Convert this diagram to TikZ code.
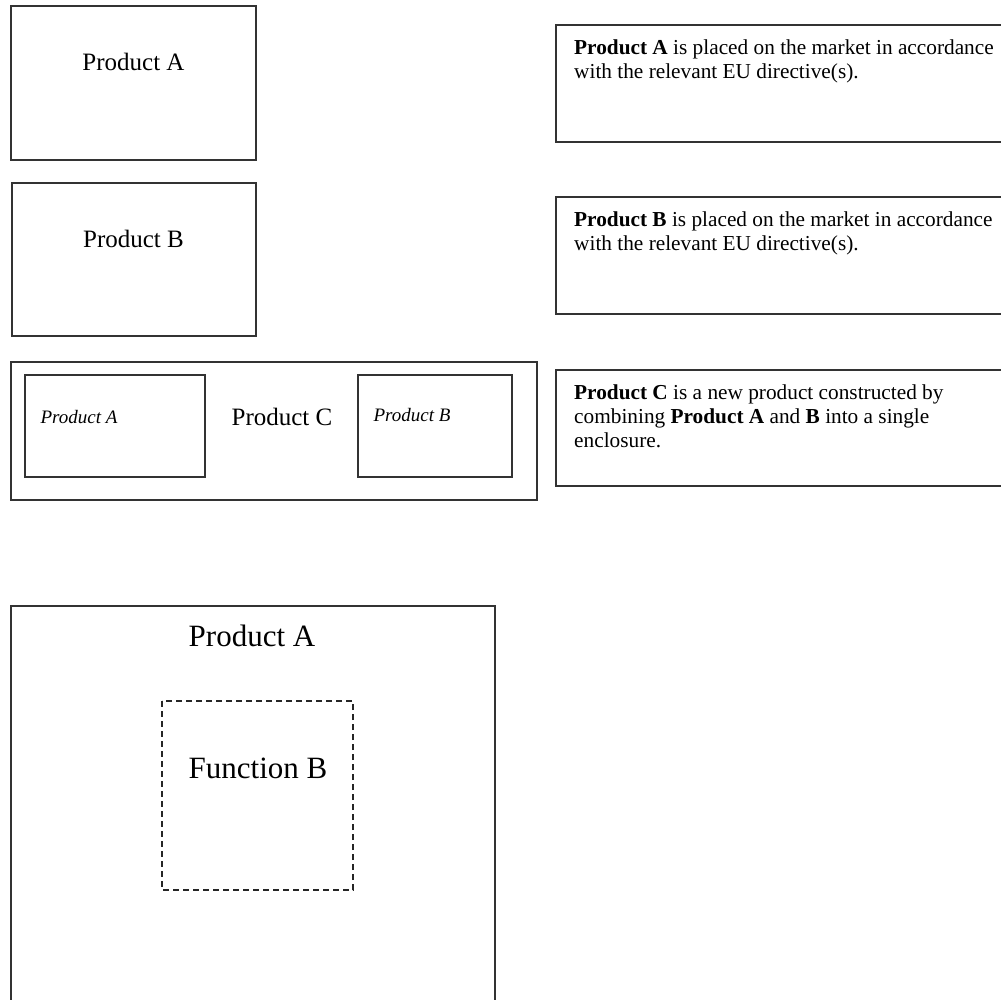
\documentclass[tikz,border=0pt]{standalone}
\usepackage{fontspec}
\setmainfont{Liberation Serif}
\begin{document}
\begin{tikzpicture}[x=1pt,y=-1pt,
  box/.style={draw=black!80,line width=1.3pt,inner sep=0pt,rectangle},
  dbox/.style={draw=black!85,line width=1.3pt,dashed,dash pattern=on 6pt off 4pt,inner sep=0pt,rectangle},
  big/.style={font=\fontsize{25}{30}\selectfont,inner sep=0pt},
  huge/.style={font=\fontsize{31}{36}\selectfont,inner sep=0pt},
  ital/.style={font=\fontsize{19}{22}\selectfont\itshape,inner sep=0pt},
  desc/.style={font=\fontsize{21.3}{24}\selectfont,inner sep=0pt,anchor=north west,align=left}]
\clip (0,0) rectangle (1001,999);
\fill[white] (0,0) rectangle (1001,999);
% left boxes
\draw[box] (11,6) rectangle (256,160);
\node[big] (labA) at (133.5,62) {Product A};
\draw[box] (12,183) rectangle (256,336);
\node[big] (labB) at (133.5,239) {Product B};
% product C
\draw[box] (11,362) rectangle (537,500);
\draw[box] (25,375) rectangle (205,477);
\draw[box] (358,375) rectangle (512,477);
\node[ital] (labCA) at (79,417) {Product A};
\node[big] (labC) at (282,417) {Product C};
\node[ital] (labCB) at (412,415) {Product B};
% right description boxes
\draw[box] (556,25) rectangle (1020,142);
\node[desc] (descA) at (574,40) {\textbf{Product A} is placed on the market in accordance\\with the relevant EU directive(s).};
\draw[box] (556,197) rectangle (1020,314);
\node[desc] (descB) at (574,212) {\textbf{Product B} is placed on the market in accordance\\with the relevant EU directive(s).};
\draw[box] (556,370) rectangle (1020,486);
\node[desc] (descC) at (574,385) {\textbf{Product C} is a new product constructed by\\combining \textbf{Product A} and \textbf{B} into a single\\enclosure.};
% bottom
\draw[box] (11,606) rectangle (495,1010);
\node[huge] (labBigA) at (252,636) {Product A};
\draw[dbox] (162,701) rectangle (353,890);
\node[huge] (labF) at (258,768) {Function B};
\end{tikzpicture}
\end{document}
